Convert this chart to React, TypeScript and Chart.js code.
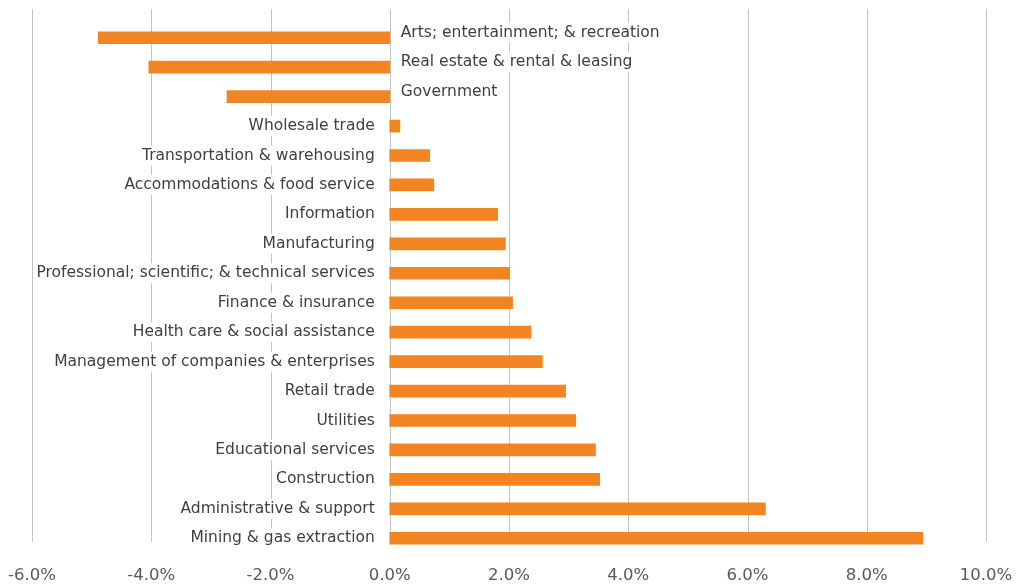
import React, { useEffect, useRef } from "react";
import { Chart, registerables } from "chart.js";

Chart.register(...registerables);

const categories: string[] = [
  "Arts; entertainment; & recreation",
  "Real estate & rental & leasing",
  "Government",
  "Wholesale trade",
  "Transportation & warehousing",
  "Accommodations & food service",
  "Information",
  "Manufacturing",
  "Professional; scientific; & technical services",
  "Finance & insurance",
  "Health care & social assistance",
  "Management of companies & enterprises",
  "Retail trade",
  "Utilities",
  "Educational services",
  "Construction",
  "Administrative & support",
  "Mining & gas extraction",
];

const growth: number[] = [
  -4.89, -4.04, -2.73, 0.17, 0.67, 0.74, 1.81, 1.94, 2.01, 2.06, 2.37, 2.56,
  2.95, 3.12, 3.45, 3.52, 6.3, 8.94,
];

const xMin = -6;
const xMax = 10;
const xStep = 2;

const BAR_COLOR = "#F38422";
const LABEL_FONT = '15.5px "DejaVu Sans"';
const LABEL_COLOR = "#404040";

const gridAndLabels = {
  id: "gridAndLabels",
  beforeDatasetsDraw(chart: any) {
    const { ctx, chartArea } = chart;
    const x = chart.scales.x;
    const y = chart.scales.y;
    ctx.save();
    ctx.strokeStyle = "#c4c4c4";
    ctx.lineWidth = 1;
    x.ticks.forEach((t: any) => {
      const px = Math.round(x.getPixelForValue(t.value)) + 0.5;
      ctx.beginPath();
      ctx.moveTo(px, chartArea.top - 14);
      ctx.lineTo(px, chartArea.bottom - 11);
      ctx.stroke();
    });
    ctx.font = LABEL_FONT;
    ctx.textBaseline = "middle";
    const zero = x.getPixelForValue(0);
    categories.forEach((c, i) => {
      const v = growth[i];
      const py = y.getPixelForValue(i) + (v < 0 ? -5 : 0);
      const w = ctx.measureText(c).width;
      const left = v < 0 ? zero + 11 : zero - 15 - w;
      ctx.fillStyle = "#ffffff";
      ctx.fillRect(left - 3, py - 10, w + 6, 20);
      ctx.fillStyle = LABEL_COLOR;
      ctx.textAlign = "left";
      ctx.fillText(c, left, py);
    });
    ctx.restore();
  },
};

export default function App() {
  const ref = useRef<HTMLCanvasElement | null>(null);
  useEffect(() => {
    document.body.style.margin = "0";
    const canvas = ref.current;
    if (!canvas) return;
    const chart = new Chart(canvas, {
      type: "bar",
      data: {
        labels: categories,
        datasets: [
          {
            data: growth,
            backgroundColor: BAR_COLOR,
            borderWidth: 0,
            barThickness: 12,
          },
        ],
      },
      options: {
        indexAxis: "y",
        animation: false,
        responsive: false,
        maintainAspectRatio: false,
        layout: { padding: { top: 23, right: 35, bottom: 0, left: 0 } },
        plugins: {
          legend: { display: false },
          tooltip: { enabled: false },
        },
        scales: {
          x: {
            type: "linear",
            min: xMin,
            max: xMax,
            grid: { display: false, drawTicks: false },
            border: { display: false },
            ticks: {
              stepSize: xStep,
              padding: 13,
              color: "#595959",
              font: { family: '"DejaVu Sans"', size: 16.5 },
              callback: (v: any) => Number(v).toFixed(1) + "%",
            },
            afterFit: (scale: any) => {
              scale.height = 33;
              scale.paddingLeft = 0;
              scale.paddingRight = 0;
            },
          },
          y: {
            type: "category",
            grid: { display: false, drawTicks: false },
            border: { display: false },
            ticks: { display: false },
            afterFit: (scale: any) => {
              scale.width = 32;
            },
          },
        },
      },
      plugins: [gridAndLabels],
    });
    return () => chart.destroy();
  }, []);
  return (
    <div style={{ width: 1021, height: 586, background: "#fff" }}>
      <canvas ref={ref} width={1021} height={586} />
    </div>
  );
}
